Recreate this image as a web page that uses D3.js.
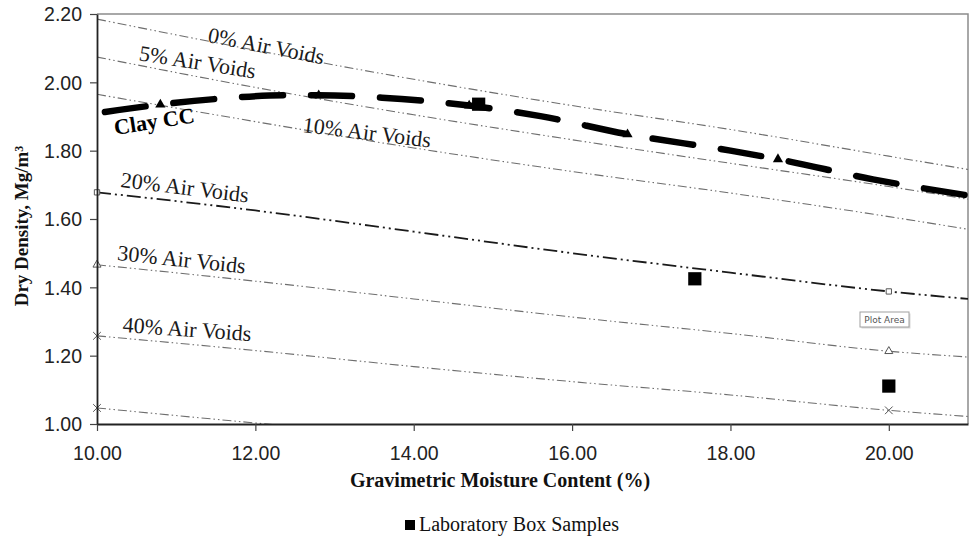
<!DOCTYPE html>
<html>
<head>
<meta charset="utf-8">
<script src="https://cdnjs.cloudflare.com/ajax/libs/d3/7.8.5/d3.min.js"></script>
<style>
  body { margin: 0; background: #fff; }
  svg { display: block; }
</style>
</head>
<body>
<svg id="chart" width="970" height="536"></svg>
<script>
var width = 970
var height = 536

// air void lines
var avMoisture = [10, 12, 14, 16, 18, 20, 21]
var av0 = [2.185, 2.094, 2.009, 1.932, 1.862, 1.784, 1.745]
var av5 = [2.074, 1.985, 1.905, 1.832, 1.763, 1.695, 1.658]
var av10 = [1.965, 1.885, 1.808, 1.739, 1.676, 1.607, 1.570]
var av20 = [1.678, 1.625, 1.563, 1.500, 1.443, 1.388, 1.366]
var av30 = [1.466, 1.418, 1.366, 1.313, 1.265, 1.213, 1.196]
var av40 = [1.258, 1.215, 1.168, 1.124, 1.085, 1.040, 1.022]
var av50Moisture = [10, 12, 14]
var av50 = [1.047, 1.003, 0.962]
var avLabels = ["0% Air Voids", "5% Air Voids", "10% Air Voids", "20% Air Voids", "30% Air Voids", "40% Air Voids"]

// compaction curve
var clayMoisture = [10.1, 10.8, 11.6, 12.4, 12.8, 13.6, 14.7, 15.6, 16.7, 18.0, 18.6, 19.8, 21.0]
var clayDensity = [1.913, 1.935, 1.953, 1.962, 1.962, 1.955, 1.932, 1.901, 1.848, 1.800, 1.775, 1.716, 1.669]
var clayMarkMoisture = [10.8, 12.8, 14.7, 16.7, 18.6]
var clayMarkDensity = [1.935, 1.962, 1.932, 1.848, 1.775]

// laboratory box samples
var labMoisture = [14.82, 17.55, 20.0]
var labDensity = [1.936, 1.425, 1.111]

var xTicks = [10, 12, 14, 16, 18, 20]
var yTicks = [1.0, 1.2, 1.4, 1.6, 1.8, 2.0, 2.2]

var serif = "'Liberation Serif', 'Times New Roman', serif"
var sans = "'Liberation Sans', Arial, sans-serif"

var svg = d3.select("#chart")

var x = d3.scaleLinear().domain([10, 21]).range([97, 968])
var y = d3.scaleLinear().domain([1.0, 2.2]).range([424, 14])

svg.append("defs").append("clipPath").attr("id", "plot")
    .append("rect")
    .attr("x", x(10)).attr("y", y(2.2))
    .attr("width", x(21) - x(10)).attr("height", y(1.0) - y(2.2))

// top and right border of the plot area
svg.append("path")
    .attr("d", `M${x(10)},${y(2.2)}H${x(21)}V${y(1.0)}`)
    .attr("fill", "none")
    .attr("stroke", "#8c8c8c")
    .attr("stroke-width", 1.5)

var line = d3.line()
    .x(d => x(d[0]))
    .y(d => y(d[1]))
    .curve(d3.curveMonotoneX)

var zip = (a, b) => a.map((v, i) => [v, b[i]])

var voidSeries = [
    { vals: zip(avMoisture, av0), marker: null },
    { vals: zip(avMoisture, av5), marker: null },
    { vals: zip(avMoisture, av10), marker: null },
    { vals: zip(avMoisture, av20), marker: "square", strong: true },
    { vals: zip(avMoisture, av30), marker: "triangle" },
    { vals: zip(avMoisture, av40), marker: "cross" },
    { vals: zip(av50Moisture, av50), marker: "cross" }
]

var plot = svg.append("g").attr("clip-path", "url(#plot)")

plot.selectAll("path.void")
    .data(voidSeries)
    .enter()
    .append("path")
    .attr("class", "void")
    .attr("d", d => line(d.vals))
    .attr("fill", "none")
    .attr("stroke", d => d.strong ? "#1a1a1a" : "#6e6e6e")
    .attr("stroke-width", d => d.strong ? 1.8 : 1.1)
    .attr("stroke-dasharray", d => d.strong ? "14,4,2,4,2,4" : "9,3,1.5,3,1.5,3")

// little markers at 10% and 20% moisture
var symbolFor = { square: d3.symbolSquare, triangle: d3.symbolTriangle, cross: d3.symbolX }
voidSeries.forEach(function(s) {
    if (!s.marker) return
    var pts = s.vals.filter(p => p[0] == 10 || p[0] == 20)
    svg.append("g").selectAll("path")
        .data(pts)
        .enter()
        .append("path")
        .attr("transform", p => `translate(${x(p[0])},${y(p[1])})`)
        .attr("d", d3.symbol().type(symbolFor[s.marker]).size(s.marker == "cross" ? 40 : 28))
        .attr("fill", "#fff")
        .attr("stroke", "#555")
        .attr("stroke-width", 1)
})

// Clay CC compaction curve
plot.append("path")
    .attr("d", line(zip(clayMoisture, clayDensity)))
    .attr("fill", "none")
    .attr("stroke", "#000")
    .attr("stroke-width", 6.5)
    .attr("stroke-linecap", "round")
    .attr("stroke-dasharray", "41,28")

plot.append("g").selectAll("path")
    .data(zip(clayMarkMoisture, clayMarkDensity))
    .enter()
    .append("path")
    .attr("transform", p => `translate(${x(p[0])},${y(p[1])})`)
    .attr("d", d3.symbol().type(d3.symbolTriangle).size(45))
    .attr("fill", "#000")

// laboratory box samples
svg.append("g").selectAll("path")
    .data(zip(labMoisture, labDensity))
    .enter()
    .append("path")
    .attr("transform", p => `translate(${x(p[0])},${y(p[1])})`)
    .attr("d", d3.symbol().type(d3.symbolSquare).size(175))
    .attr("fill", "#000")

// axes
var xAxis = svg.append("g")
    .attr("transform", `translate(0,${y(1.0)})`)
    .call(d3.axisBottom(x).tickValues(xTicks).tickFormat(d3.format(".2f")).tickSize(7).tickSizeOuter(0))
var yAxis = svg.append("g")
    .attr("transform", `translate(${x(10)},0)`)
    .call(d3.axisLeft(y).tickValues(yTicks).tickFormat(d3.format(".2f")).tickSize(7).tickSizeOuter(0))

;[xAxis, yAxis].forEach(function(a) {
    a.select(".domain").attr("stroke", "#222").attr("stroke-width", 1.8)
    a.selectAll(".tick line").attr("stroke", "#444").attr("stroke-width", 1.2)
    a.selectAll(".tick text")
        .attr("fill", "#222")
        .style("font-family", sans)
        .style("font-size", "19.5px")
})
xAxis.selectAll(".tick text").attr("dy", "1.35em")
yAxis.selectAll(".tick text").attr("x", -15).attr("dy", "0.35em")

// air void labels, placed in data units
var labelSpots = [
    [11.39, 2.118, 11], [10.52, 2.065, 9], [12.59, 1.855, 7],
    [10.29, 1.694, 7], [10.25, 1.480, 6], [10.32, 1.269, 4]
]
svg.append("g").selectAll("text")
    .data(avLabels)
    .enter()
    .append("text")
    .attr("transform", (d, i) => `translate(${x(labelSpots[i][0])},${y(labelSpots[i][1])}) rotate(${labelSpots[i][2]})`)
    .attr("fill", "#1a1a1a")
    .style("font-family", serif)
    .style("font-size", "22px")
    .text(d => d)

svg.append("text")
    .attr("transform", `translate(${x(10.23)},${y(1.846)}) rotate(-9)`)
    .attr("fill", "#000")
    .style("font-family", serif)
    .style("font-size", "22px")
    .style("font-weight", "bold")
    .text("Clay CC")

// axis titles
svg.append("text")
    .attr("x", 500)
    .attr("y", 487)
    .attr("text-anchor", "middle")
    .attr("fill", "#111")
    .style("font-family", serif)
    .style("font-size", "20px")
    .style("font-weight", "bold")
    .text("Gravimetric Moisture Content (%)")

var yTitle = svg.append("text")
    .attr("transform", "translate(28,226) rotate(-90)")
    .attr("text-anchor", "middle")
    .attr("fill", "#111")
    .style("font-family", serif)
    .style("font-size", "19px")
    .style("font-weight", "bold")
yTitle.append("tspan").text("Dry Density, Mg/m")
yTitle.append("tspan").attr("dy", "-0.45em").style("font-size", "12px").text("3")

// legend
var legend = svg.append("g").attr("transform", "translate(405,520)")
legend.append("rect").attr("width", 10).attr("height", 10).attr("fill", "#000")
legend.append("text")
    .attr("x", 14)
    .attr("y", 11)
    .attr("fill", "#111")
    .style("font-family", serif)
    .style("font-size", "20px")
    .text("Laboratory Box Samples")

// the "Plot Area" hover tip left in the screenshot
var tip = svg.append("g").attr("transform", "translate(860,312)")
tip.append("rect").attr("x", 1.5).attr("y", 1.5).attr("width", 49).attr("height", 15).attr("fill", "#d8d8d8")
tip.append("rect").attr("width", 49).attr("height", 15).attr("fill", "#fff").attr("stroke", "#a0a0a0")
tip.append("text")
    .attr("x", 24.5)
    .attr("y", 11)
    .attr("text-anchor", "middle")
    .attr("fill", "#555")
    .style("font-family", "'DejaVu Sans', sans-serif")
    .style("font-size", "9px")
    .text("Plot Area")
</script>
</body>
</html>
